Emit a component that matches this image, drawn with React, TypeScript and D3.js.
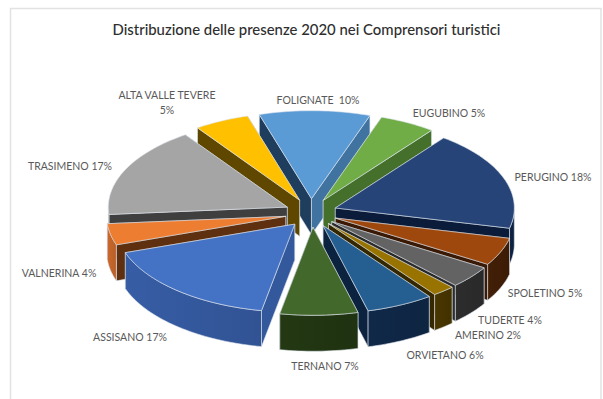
import React from "react";
import * as d3 from "d3";

// Tourist-district share of 2020 overnight stays, in drawing order clockwise.
const districts = [
  "FOLIGNATE", "EUGUBINO", "PERUGINO", "SPOLETINO", "TUDERTE", "AMERINO",
  "ORVIETANO", "TERNANO", "ASSISANO", "VALNERINA", "TRASIMENO", "ALTA VALLE TEVERE",
];
const shares = [10, 5, 18, 5, 4, 2, 6, 7, 17, 4, 17, 5];

const topColors = ["#5b9bd5", "#70ad47", "#264478", "#9e480e", "#636363", "#997300", "#255e91", "#43682b", "#4472c4", "#ed7d31", "#a5a5a5", "#ffc000"];
const wallColors = ["#2a5078", "#41662a", "#0f2140", "#3f1d06", "#2b2b2b", "#453400", "#0f2745", "#213512", "#34589c", "#c0642a", "#555555", "#6b5000"];
const startFaceColors = ["#1f3d5c", "#41662a", "#0f2140", "#3f1d06", "#2b2b2b", "#453400", "#0f2745", "#213512", "#34589c", "#5f3010", "#3f3f3f", "#5f4700"];
const endFaceColors = ["#40739f", "#44702c", "#0b1c3a", "#3a1a05", "#2b2b2b", "#352800", "#0c2340", "#213512", "#30569a", "#5f3010", "#3f3f3f", "#6b5000"];

const labelLines = [
  ["FOLIGNATE  10%"], ["EUGUBINO 5%"], ["PERUGINO 18%"], ["SPOLETINO 5%"], ["TUDERTE 4%"], ["AMERINO 2%"],
  ["ORVIETANO 6%"], ["TERNANO 7%"], ["ASSISANO 17%"], ["VALNERINA 4%"], ["TRASIMENO 17%"], ["ALTA VALLE TEVERE", "5%"],
];
const labelAnchors: [number, number][] = [
  [318, 100], [449, 113], [553, 177], [545, 293], [510, 320], [488, 335],
  [445, 355], [325, 366], [130, 337], [59, 273], [70, 166], [167, 95],
];

const FONT = "Lato, 'Open Sans', sans-serif";
const CX = 311, CY = 213, RX = 179, RY = 88, DEPTH = 36, EXPLODE = 26, EXPLODE_Y = 0.55;
const DEG = Math.PI / 180;
// The near side of the pie is foreshortened, so rim angles drift toward the front.
const PERSPECTIVE = 2.5 * DEG;

const pie = d3.pie<number>().sort(null).startAngle(-17 * DEG).endAngle(343 * DEG);
const arcs = pie(shares);

type Pt = [number, number];
const line = d3.line<Pt>();

function App() {
  const slices = arcs.map((a, i) => {
    const mid = (a.startAngle + a.endAngle) / 2;
    const tx = CX + EXPLODE * Math.sin(mid);
    const ty = CY - EXPLODE * EXPLODE_Y * Math.cos(mid);
    const at = (t: number, dz = 0): Pt => {
      const w = t + (PERSPECTIVE * (1 - Math.cos(t))) / 2;
      return [tx + RX * Math.sin(w), ty - RY * Math.cos(w) + dz];
    };
    const sweep = (from: number, to: number, dz = 0): Pt[] => {
      const n = Math.max(2, Math.ceil((to - from) / (1.5 * DEG)));
      return d3.range(n + 1).map((k) => at(from + ((to - from) * k) / n, dz));
    };
    const tip: Pt = [tx, ty];
    const tipLow: Pt = [tx, ty + DEPTH];
    const top = line([tip, ...sweep(a.startAngle, a.endAngle)]) + "Z";
    const startFace = { d: line([tip, at(a.startAngle), at(a.startAngle, DEPTH), tipLow]) + "Z", fill: startFaceColors[i], rimY: at(a.startAngle)[1] };
    const endFace = { d: line([tip, at(a.endAngle), at(a.endAngle, DEPTH), tipLow]) + "Z", fill: endFaceColors[i], rimY: at(a.endAngle)[1] };
    // The cut face nearer the viewer has to paint over the farther one.
    const faces = startFace.rimY < endFace.rimY ? [startFace, endFace] : [endFace, startFace];
    // Only the part of the rim that faces the viewer gets a wall.
    const wallFrom = Math.max(a.startAngle, 90 * DEG);
    const wallTo = Math.min(a.endAngle, 270 * DEG);
    const wall = wallTo > wallFrom
      ? line([...sweep(wallFrom, wallTo), ...sweep(wallFrom, wallTo, DEPTH).reverse()]) + "Z"
      : null;
    return { i, mid, top, faces, wall, wallX: [at(wallTo)[0], at(wallFrom)[0]] };
  });
  const order = [...slices].sort((p, q) => Math.cos(q.mid) - Math.cos(p.mid));
  const edge = { stroke: "#dfe6ee", strokeWidth: 0.8, strokeOpacity: 0.75, strokeLinejoin: "round" as const };

  return (
    <svg width={603} height={399} style={{ position: "absolute", left: 0, top: 0, background: "#fff" }}>
      <defs>
        {slices.map((s) => (
          <linearGradient key={s.i} id={`wall-${s.i}`} gradientUnits="userSpaceOnUse" x1={s.wallX[0]} x2={s.wallX[1]} y1={0} y2={0}>
            <stop offset="0" stopColor={d3.color(wallColors[s.i])!.brighter(0.15).formatHex()} />
            <stop offset="1" stopColor={d3.color(wallColors[s.i])!.darker(0.15).formatHex()} />
          </linearGradient>
        ))}
      </defs>
      <path d="M10.5,399V8.5H601V399" fill="none" stroke="#e2e2e2" strokeWidth={1.5} />
      <text x={306.5} y={35} textAnchor="middle" fontFamily={FONT} fontSize={14.9} fontWeight={500} fill="#2e2e2e">
        Distribuzione delle presenze 2020 nei Comprensori turistici
      </text>
      {order.map((s) => (
        <g key={s.i}>
          {s.faces.map((f, k) => <path key={k} d={f.d} fill={f.fill} {...edge} />)}
          {s.wall && <path d={s.wall} fill={`url(#wall-${s.i})`} {...edge} />}
          <path d={s.top} fill={topColors[s.i]} {...edge} />
        </g>
      ))}
      {labelLines.map((lines, i) => (
        <text key={districts[i]} x={labelAnchors[i][0]} y={labelAnchors[i][1] + 3.5} textAnchor="middle" fontFamily={FONT} fontSize={10.5} fill="#595959" xmlSpace="preserve">
          {lines.map((l, k) => (
            <tspan key={k} x={labelAnchors[i][0]} dy={k ? 15 : 0}>{l}</tspan>
          ))}
        </text>
      ))}
    </svg>
  );
}

export default App;
